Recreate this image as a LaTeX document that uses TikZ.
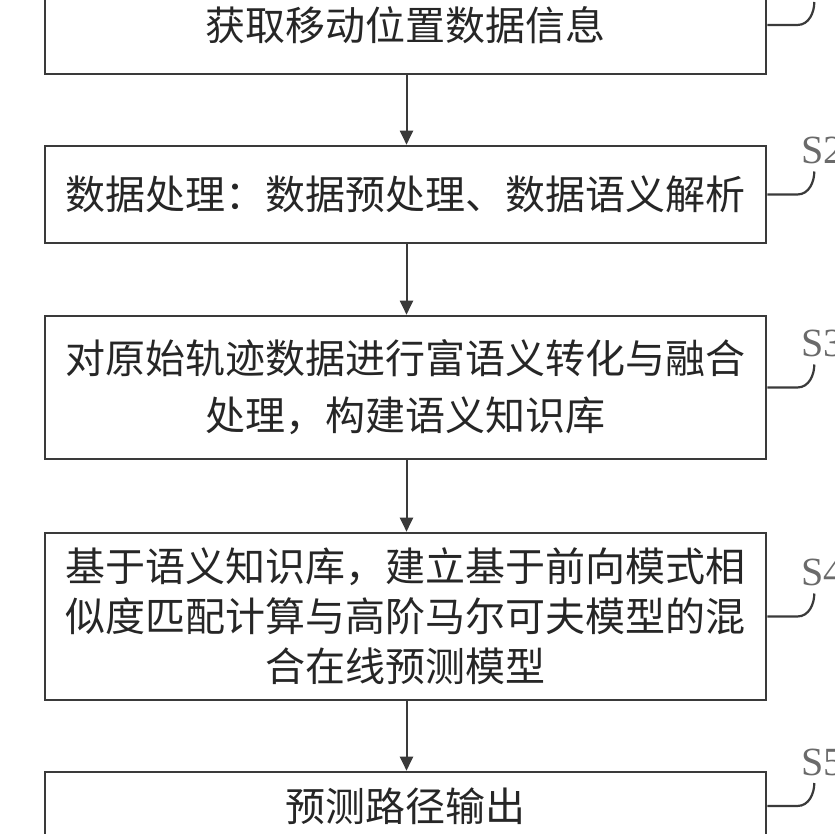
\documentclass[tikz,border=0pt]{standalone}
\usepackage{fontspec}
\newfontfamily\cjk{Noto Sans CJK SC}
\newfontfamily\lblfont{Liberation Serif}
\usetikzlibrary{arrows.meta,calc}
\definecolor{linec}{HTML}{3A3A3A}
\definecolor{textc}{HTML}{262626}
\definecolor{lblc}{HTML}{6A6A6A}
\tikzset{
  stepbox/.style={draw=linec, line width=2.6pt, minimum width=721pt, inner sep=0pt,
    align=center, text=textc, font=\cjk\fontsize{40}{50}\selectfont},
  flow/.style={draw=linec, line width=2pt, -{Triangle[length=14pt,width=13pt]}},
  lbl/.style={anchor=west, inner sep=0pt, text=lblc, font=\lblfont\fontsize{40}{40}\selectfont},
  hook/.style={draw=linec, line width=2.2pt}
}
\begin{document}
\begin{tikzpicture}[x=1pt,y=-1pt]
\useasboundingbox (0,0) rectangle (834,834);
\clip (0,0) rectangle (834,834);
\node[stepbox, minimum height=98pt] (b1) at (405.5,25) {获取移动位置数据信息};
\node[stepbox, minimum height=97pt] (b2) at (405.5,194.5) {数据处理：数据预处理、数据语义解析};
\node[stepbox, minimum height=143pt, font=\cjk\fontsize{40}{57}\selectfont] (b3) at (405.5,387.5)
  {对原始轨迹数据进行富语义转化与融合\\处理，构建语义知识库};
\node[stepbox, minimum height=167pt] (b4) at (405.5,616.5)
  {基于语义知识库，建立基于前向模式相\\似度匹配计算与高阶马尔可夫模型的混\\合在线预测模型};
\node[stepbox, minimum height=68pt] (b5) at (405.5,806) {预测路径输出};
\foreach \i in {1,...,4}{
  \pgfmathtruncatemacro{\j}{\i+1}
  \draw[flow] ($(b\i.south)+(1,0)$) -- ($(b\j.north)+(1,0)$);
}
\foreach \i in {1,...,5}{
  \node[lbl] (s\i) at ($(b\i.east)+(34,-44)$) {S\i};
  \coordinate (c\i) at ($(b\i.east)+(47,-23)$);
  \draw[hook] (b\i.east) -- ($(b\i.east)+(30,0)$)
    .. controls ($(b\i.east)+(42,0)$) and ($(c\i)+(0,10)$) .. (c\i);
}
\end{tikzpicture}
\end{document}
